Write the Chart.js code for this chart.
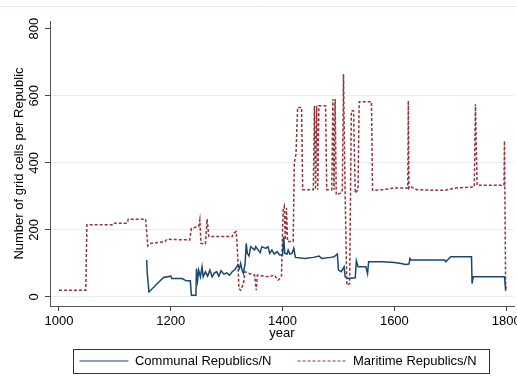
<!DOCTYPE html>
<html>
<head>
<meta charset="utf-8">
<script src="https://cdn.jsdelivr.net/npm/chart.js@4.4.1/dist/chart.umd.min.js"></script>
<style>
  html, body { margin: 0; padding: 0; background: #fff; }
  #wrap { width: 517px; height: 383px; }
</style>
</head>
<body>
<div id="wrap"><canvas id="chart" width="517" height="383"></canvas></div>
<script>
const xTicks = [1000, 1200, 1400, 1600, 1800];
const yTicks = [0, 200, 400, 600, 800];

const communalYears = [1157, 1158, 1161, 1187, 1200, 1202, 1220, 1228, 1235, 1237, 1245, 1246, 1248, 1250,
    1253, 1256, 1258, 1262, 1266, 1270, 1274, 1278, 1282, 1286, 1290, 1295, 1300, 1305, 1310, 1315,
    1320, 1323, 1325, 1328, 1330, 1333, 1335, 1337, 1340, 1343, 1350, 1352, 1360, 1363, 1370, 1374,
    1377, 1381, 1385, 1390, 1395, 1400, 1402, 1404, 1408, 1410, 1413, 1417, 1420, 1423, 1440, 1455,
    1465, 1470, 1486, 1492, 1498, 1500, 1505, 1510, 1512, 1516, 1530, 1532, 1535, 1549, 1552, 1554,
    1580, 1600, 1612, 1620, 1626, 1628, 1630, 1690, 1692, 1695, 1701, 1738, 1739, 1741, 1797, 1799, 1800];
const communalValues = [110, 70, 15, 58, 62, 55, 55, 48, 48, 5, 5, 85, 50, 80,
    60, 90, 60, 75, 62, 80, 60, 72, 75, 62, 78, 68, 72, 65, 75, 82,
    95, 85, 100, 78, 70, 100, 160, 130, 122, 150, 140, 150, 132, 150, 145, 150,
    130, 140, 128, 135, 125, 125, 180, 130, 128, 140, 128, 130, 145, 118, 115, 118,
    122, 115, 118, 120, 128, 80, 75, 90, 60, 55, 57, 108, 90, 90, 70, 105,
    105, 103, 100, 97, 98, 115, 110, 110, 105, 110, 120, 120, 40, 60, 60, 20, 20];

const maritimeYears = [1000, 1048, 1050, 1097, 1099, 1122, 1124, 1155, 1159, 1165, 1190, 1193, 1234, 1237,
    1250, 1252, 1254, 1262, 1265, 1268, 1310, 1312, 1317, 1319, 1322, 1325, 1330, 1333, 1340, 1350,
    1353, 1355, 1375, 1385, 1392, 1398, 1401, 1403, 1405, 1407, 1409, 1419, 1421, 1424, 1427, 1434,
    1436, 1455, 1457, 1459, 1461, 1463, 1465, 1477, 1479, 1488, 1490, 1492, 1494, 1496, 1505, 1507,
    1509, 1512, 1515, 1520, 1523, 1527, 1530, 1535, 1537, 1559, 1561, 1580, 1600, 1624, 1625, 1626,
    1628, 1640, 1670, 1690, 1710, 1743, 1745, 1748, 1796, 1797, 1799, 1800];
const maritimeValues = [20, 20, 215, 215, 220, 220, 232, 232, 152, 160, 165, 172, 170, 205,
    210, 230, 160, 158, 232, 180, 180, 190, 195, 150, 25, 20, 40, 75, 70, 65,
    20, 65, 60, 65, 50, 60, 260, 270, 170, 265, 165, 165, 400, 425, 565, 565,
    320, 320, 570, 320, 570, 320, 570, 570, 320, 320, 590, 320, 590, 305, 310, 320,
    665, 300, 35, 40, 555, 555, 310, 320, 582, 582, 318, 320, 325, 325, 585, 325,
    330, 320, 318, 318, 325, 328, 575, 333, 333, 465, 40, 25];

function toPoints(xs, ys) {
    return xs.map((x, i) => ({x: x, y: ys[i]}));
}

const font = {family: '"Liberation Sans", Arial, sans-serif', size: 13};

const stataFrame = {
    id: 'stataFrame',
    afterUpdate(chart) {
        // centre the legend under the plot region, like Stata does
        let lg = chart.legend;
        let a = chart.chartArea;
        lg.left = a.left - 8;
        lg.right = a.right;
        lg.top = 328.5;
        lg.bottom = chart.height;
        lg.adjustHitBoxes();
    },
    beforeDraw(chart) {
        let ctx = chart.ctx;
        ctx.save();
        ctx.strokeStyle = '#e3ecee';
        ctx.lineWidth = 1;
        ctx.beginPath();
        ctx.moveTo(0, 6.5);
        ctx.lineTo(chart.width, 6.5);
        ctx.stroke();
        ctx.restore();
    },
    afterDraw(chart) {
        let ctx = chart.ctx;
        let boxes = chart.legend.legendHitBoxes;
        if (!boxes || !boxes.length) return;
        let first = boxes[0];
        let last = boxes[boxes.length - 1];
        let mid = chart.legend.top + 26 + 6.5;
        let x0 = Math.round(first.left - 6);
        let x1 = Math.round(last.left + last.width + 12);
        ctx.save();
        ctx.strokeStyle = '#333';
        ctx.lineWidth = 1;
        ctx.strokeRect(x0 + 0.5, Math.round(mid - 12) + 0.5, x1 - x0, 24);
        ctx.restore();
    }
};

new Chart(document.getElementById('chart').getContext('2d'), {
    type: 'line',
    data: {
        datasets: [{
            label: 'Communal Republics/N',
            data: toPoints(communalYears, communalValues),
            borderColor: '#1a476f',
            backgroundColor: '#1a476f',
            borderWidth: 1.5,
            pointRadius: 0,
            tension: 0,
            fill: false
        }, {
            label: 'Maritime Republics/N',
            data: toPoints(maritimeYears, maritimeValues),
            borderColor: '#90353b',
            backgroundColor: '#90353b',
            borderWidth: 1.5,
            borderDash: [3, 2],
            pointRadius: 0,
            tension: 0,
            fill: false
        }]
    },
    options: {
        responsive: false,
        animation: false,
        devicePixelRatio: 1,
        layout: {padding: {top: 21, right: 3, left: 0, bottom: 11}},
        plugins: {
            title: {display: false},
            tooltip: {enabled: false},
            legend: {
                position: 'bottom',
                maxHeight: 30,
                labels: {
                    font: font,
                    color: '#000',
                    usePointStyle: true,
                    pointStyle: 'line',
                    pointStyleWidth: 49,
                    padding: 26,
                    generateLabels: chart => {
                        let items = Chart.defaults.plugins.legend.labels.generateLabels(chart);
                        items.forEach((it, i) => {
                            let ds = chart.data.datasets[i];
                            it.lineDash = ds.borderDash || [];
                            it.strokeStyle = ds.borderColor;
                            it.lineWidth = 1.2;
                        });
                        return items;
                    }
                }
            }
        },
        scales: {
            x: {
                type: 'linear',
                min: 984,
                max: 1814,
                afterBuildTicks: s => { s.ticks = xTicks.map(v => ({value: v})); },
                afterFit: s => { s.height = 36; s.paddingLeft = 0; s.paddingRight = 0; },
                grid: {drawOnChartArea: false, drawTicks: true, tickLength: 5, tickColor: '#444'},
                border: {color: '#555', width: 1},
                ticks: {font: font, color: '#000', padding: 3, maxRotation: 0, autoSkip: false,
                    callback: v => String(v)},
                title: {display: true, text: 'year', font: font, color: '#000', padding: {top: 0, bottom: 1}}
            },
            y: {
                type: 'linear',
                min: -27,
                max: 823,
                afterBuildTicks: s => { s.ticks = yTicks.map(v => ({value: v})); },
                afterFit: s => { s.width = 50; s.paddingTop = 0; s.paddingBottom = 0; },
                grid: {
                    color: c => (c.tick && c.tick.value === 800) ? 'rgba(0,0,0,0)' : '#e6eef0',
                    lineWidth: 1,
                    drawTicks: true,
                    tickLength: 5,
                    tickColor: '#444'
                },
                border: {color: '#555', width: 1},
                ticks: {font: font, color: '#000', padding: 0, minRotation: 90, maxRotation: 90,
                    crossAlign: 'center', autoSkip: false, callback: v => String(v)},
                title: {display: true, text: 'Number of grid cells per Republic', font: font, color: '#000',
                    padding: {top: 12, bottom: 0}}
            }
        }
    },
    plugins: [stataFrame]
});
</script>
</body>
</html>
